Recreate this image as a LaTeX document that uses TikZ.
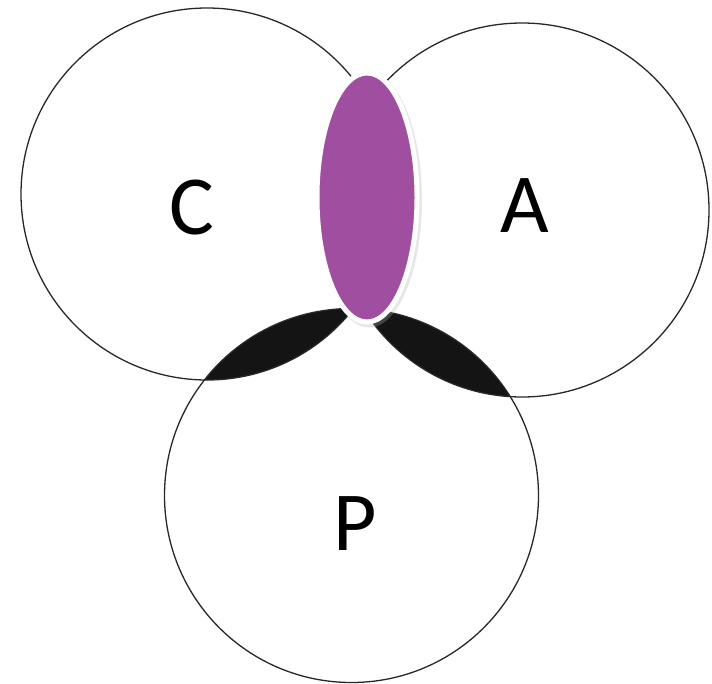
\documentclass[tikz,border=0pt]{standalone}
\usepackage{fontspec}
\setmainfont{Carlito}
\definecolor{lobe}{RGB}{160,78,160}
\definecolor{ink}{RGB}{40,40,40}
\tikzset{
  ring/.style={draw=ink, line width=1.3pt},
  lens/.style={fill=black!92},
  letter/.style={anchor=base, inner sep=0pt, font=\fontsize{84}{90}\selectfont},
  blob/.style={fill=lobe, draw=white, line width=5pt}
}
\begin{document}
\begin{tikzpicture}[x=1pt,y=-1pt]
\useasboundingbox[fill=white] (0,0) rectangle (712,683);
\coordinate (Cc) at (207,194);
\coordinate (Ac) at (522,210);
\coordinate (Pc) at (351.5,495.5);
% shaded lenses
\begin{scope}
  \clip (Cc) circle [radius=186pt];
  \fill[lens] (Pc) circle [radius=187pt];
\end{scope}
\begin{scope}
  \clip (Ac) circle [radius=187pt];
  \fill[lens] (Pc) circle [radius=187pt];
\end{scope}
% circles
\draw[ring] (Cc) circle [radius=186pt];
\draw[ring] (Ac) circle [radius=187pt];
\draw[ring] (Pc) circle [radius=187pt];
% purple lobe
\fill[black!30, opacity=0.3] (369,200) ellipse [x radius=53pt, y radius=127.5pt];
\path[blob] (367,197.5) ellipse [x radius=50pt, y radius=124.5pt];
% labels
\node[letter] (C) at (192,234) {C};
\node[letter] (A) at (524.5,232) {A};
\node[letter] (P) at (355,550) {P};
\end{tikzpicture}
\end{document}
